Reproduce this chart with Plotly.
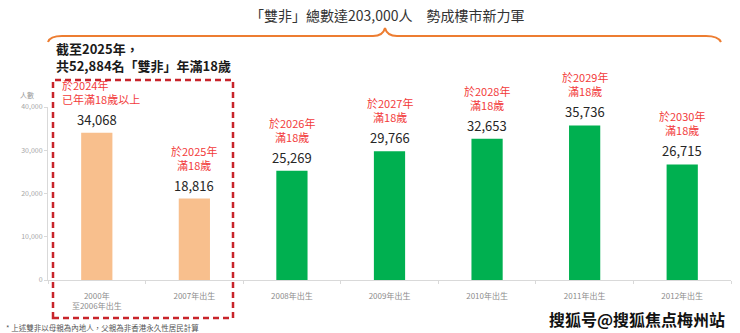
import plotly.graph_objects as go

# ---- data ----
categories = ["2000年<br>至2006年出生", "2007年出生", "2008年出生", "2009年出生",
              "2010年出生", "2011年出生", "2012年出生"]
values = [34068, 18816, 25269, 29766, 32653, 35736, 26715]
groups = ["adult", "adult", "future", "future", "future", "future", "future"]
red_notes = ["於2024年<br>已年滿18歲以上", "於2025年<br>滿18歲", "於2026年<br>滿18歲",
             "於2027年<br>滿18歲", "於2028年<br>滿18歲", "於2029年<br>滿18歲", "於2030年<br>滿18歲"]
y_ticks = [0, 10000, 20000, 30000, 40000]

title_text = "「雙非」總數達203,000人　勢成樓市新力軍"
subtitle_text = "截至2025年，<br>共52,884名「雙非」年滿18歲"
footnote_text = "* 上述雙非以母親為內地人，父親為非香港永久性居民計算"
watermark_text = "搜狐号@搜狐焦点梅州站"

# ---- style ----
FONT = "Noto Sans CJK TC"
color_map = {"adult": "#F8BF8D", "future": "#00B050"}
W, H = 740, 333
ML, MR, MT, MB = 48, 9, 107, 53
PW, PH = W - ML - MR, H - MT - MB


def px(x):
    return (x - ML) / PW


def py(y):
    return (H - MB - y) / PH


fig = go.Figure()
fig.add_trace(go.Bar(
    x=categories, y=values,
    marker=dict(color=[color_map[g] for g in groups], line=dict(width=0)),
    width=0.32, hoverinfo="x+y",
))

annotations = []
for i, (c, v, note) in enumerate(zip(categories, values, red_notes)):
    annotations.append(dict(
        x=c, y=v, xref="x", yref="y", text=f"{v:,}", showarrow=False,
        yanchor="bottom", yshift=2,
        font=dict(family=FONT, size=13, color="#262626"),
    ))
    if i == 0:
        annotations.append(dict(
            x=px(60), y=v, xref="paper", yref="y", text=note, showarrow=False,
            xanchor="left", align="left", yanchor="bottom", yshift=24,
            font=dict(family=FONT, size=11, color="#F23B3B"),
        ))
    else:
        annotations.append(dict(
            x=c, y=v, xref="x", yref="y", text=note, showarrow=False,
            yanchor="bottom", yshift=24,
            font=dict(family=FONT, size=11, color="#F23B3B"),
        ))

annotations += [
    dict(x=px(387), y=py(15), xref="paper", yref="paper", text=title_text,
         showarrow=False, xanchor="center", yanchor="middle",
         font=dict(family=FONT, size=14, color="#333333")),
    dict(x=px(54), y=py(57), xref="paper", yref="paper", text=subtitle_text,
         showarrow=False, xanchor="left", yanchor="middle", align="left",
         font=dict(family=FONT, size=13, color="#1a1a1a", weight="bold")),
    dict(x=px(27), y=py(95), xref="paper", yref="paper", text="人數",
         showarrow=False, xanchor="center", yanchor="middle",
         font=dict(family=FONT, size=7, color="#999999")),
    dict(x=px(4), y=py(327), xref="paper", yref="paper", text=footnote_text,
         showarrow=False, xanchor="left", yanchor="middle",
         font=dict(family=FONT, size=7.5, color="#555555")),
    dict(x=px(727), y=py(319), xref="paper", yref="paper", text=watermark_text,
         showarrow=False, xanchor="right", yanchor="middle",
         font=dict(family=FONT, size=16, color="#111111", weight="bold")),
]


def pt(x, y):
    return f"{px(x):.5f},{py(y):.5f}"


brace = (f"M{pt(48,42)} Q{pt(50,36)} {pt(62,36)} L{pt(373,36)} "
         f"Q{pt(383,36)} {pt(385,28)} Q{pt(387,36)} {pt(397,36)} "
         f"L{pt(706,36)} Q{pt(718,36)} {pt(721,42)}")

shapes = [
    dict(type="path", xref="paper", yref="paper", path=brace,
         line=dict(color="#ED7D31", width=2)),
    dict(type="rect", xref="paper", yref="paper",
         x0=px(53), x1=px(233), y0=py(318), y1=py(80),
         line=dict(color="#C8242B", width=2.5, dash="6px,4px")),
]

fig.update_layout(
    width=W, height=H, autosize=False,
    margin=dict(l=ML, r=MR, t=MT, b=MB, pad=0),
    paper_bgcolor="white", plot_bgcolor="white",
    showlegend=False,
    font=dict(family=FONT),
    xaxis=dict(
        type="category", range=[-0.5, 6.5], tickson="boundaries",
        showline=True, linecolor="#D9D9D9", linewidth=1,
        ticks="outside", ticklen=3, tickcolor="#D9D9D9",
        ticklabelstandoff=8,
        tickfont=dict(family=FONT, size=8, color="#8C8C8C"),
        showgrid=False, zeroline=False, fixedrange=True,
    ),
    yaxis=dict(
        range=[0, 40000], tickvals=y_ticks, tickformat=",",
        showline=True, linecolor="#D9D9D9", linewidth=1,
        ticks="outside", ticklen=3, tickcolor="#D9D9D9",
        tickfont=dict(family=FONT, size=7, color="#A6A6A6"),
        showgrid=False, zeroline=False, fixedrange=True,
    ),
    annotations=annotations,
    shapes=shapes,
)

fig.write_html("out.html")
